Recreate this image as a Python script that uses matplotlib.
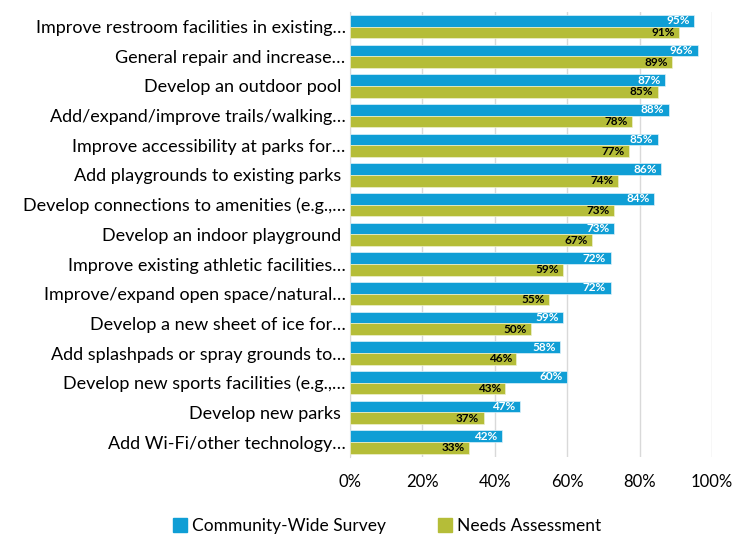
import matplotlib
matplotlib.use("Agg")
import matplotlib.pyplot as plt
import numpy as np
from matplotlib.patches import Patch

categories = [
    "Improve restroom facilities in existing…",
    "General repair and increase…",
    "Develop an outdoor pool ",
    "Add/expand/improve trails/walking…",
    "Improve accessibility at parks for…",
    "Add playgrounds to existing parks ",
    "Develop connections to amenities (e.g.,…",
    "Develop an indoor playground ",
    "Improve existing athletic facilities…",
    "Improve/expand open space/natural…",
    "Develop a new sheet of ice for…",
    "Add splashpads or spray grounds to…",
    "Develop new sports facilities (e.g.,…",
    "Develop new parks ",
    "Add Wi-Fi/other technology…",
]
community = [95, 96, 87, 88, 85, 86, 84, 73, 72, 72, 59, 58, 60, 47, 42]
needs = [91, 89, 85, 78, 77, 74, 73, 67, 59, 55, 50, 46, 43, 37, 33]
series_names = ["Community-Wide Survey", "Needs Assessment"]

BLUE = "#0F9ED5"
GREEN = "#B5BD38"

plt.rcParams["font.family"] = ["Lato", "DejaVu Sans"]

fig = plt.figure(figsize=(7.44, 5.35), dpi=100)
ax = fig.add_axes([0.470, 0.146, 0.487, 0.832])

y = np.arange(len(categories))
h = 0.39
ax.barh(y - h / 2, np.array(community) / 100, height=h, color=BLUE,
        edgecolor="#dff1f9", linewidth=0.5, zorder=3)
ax.barh(y + h / 2, np.array(needs) / 100, height=h, color=GREEN,
        edgecolor="#eef0cf", linewidth=0.5, zorder=3)

for i, (c, n) in enumerate(zip(community, needs)):
    ax.text(c / 100 - 0.012, i - h / 2, f"{c}%", ha="right", va="center",
            color="white", fontsize=8.5, fontweight="bold", zorder=4)
    ax.text(n / 100 - 0.012, i + h / 2, f"{n}%", ha="right", va="center",
            color="black", fontsize=8.5, fontweight="bold", zorder=4)

ax.set_xlim(0, 1)
ax.set_ylim(len(categories) - 0.5, -0.5)
ax.set_yticks(y)
ax.set_yticklabels(categories, fontsize=13)
ax.set_xticks(np.linspace(0, 1, 6))
ax.set_xticklabels([f"{int(v)}%" for v in np.linspace(0, 100, 6)], fontsize=12)
ax.tick_params(axis="both", length=0)
ax.tick_params(axis="x", pad=12)
ax.tick_params(axis="y", pad=3)
for s in ["top", "right", "bottom"]:
    ax.spines[s].set_visible(False)
ax.spines["left"].set_color("#d9d9d9")
ax.grid(axis="x", color="#d9d9d9", linewidth=1, zorder=0)
ax.set_axisbelow(True)

handles = [Patch(color=BLUE), Patch(color=GREEN)]
fig.legend(handles, series_names, loc="center", bbox_to_anchor=(0.52, 0.017),
           ncol=2, frameon=False, fontsize=12.5, handlelength=0.8,
           handleheight=0.8, handletextpad=0.3, columnspacing=3)

fig.savefig("out.png", dpi=100)
